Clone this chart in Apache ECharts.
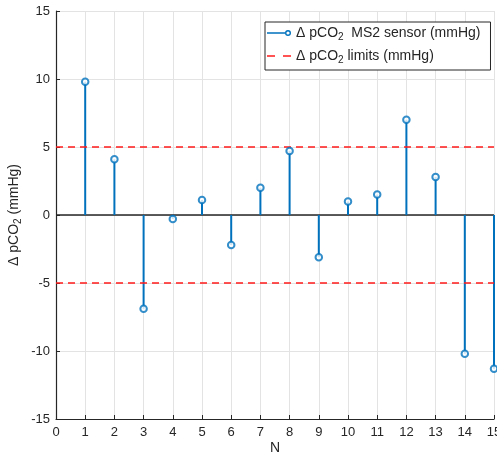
<!DOCTYPE html>
<html>
<head>
<meta charset="utf-8">
<script src="https://cdn.jsdelivr.net/npm/echarts@6/dist/echarts.min.js"></script>
<style>html,body{margin:0;padding:0;background:#fff}#c{width:497px;height:459px}</style>
</head>
<body>
<div id="c"></div>
<script>
const N = [1,2,3,4,5,6,7,8,9,10,11,12,13,14,15];
const dPCO2 = [9.8,4.1,-6.9,-0.3,1.1,-2.2,2.0,4.7,-3.1,1.0,1.5,7.0,2.8,-10.2,-11.3];
const limitUpper = 5;
const limitLower = -5;
const xTicks = [0,15];
const yTicks = [-15,15];

const SENSOR = 'sensor';
const LIMITS = 'limits';
const FONT = 'Liberation Sans, Arial, Helvetica, sans-serif';
const TXT = '#262626';
const BLUE = '#0072BD';
const RED = '#ff1a1a';

const pts = N.map((n,i)=>[n,dPCO2[i]]);

const ICON_STEM = 'path://M0,5.25 L18,5.25 L18,6.75 L0,6.75 Z ' +
  'M24,6 A3,3 0 1 0 18,6 A3,3 0 1 0 24,6 Z ' +
  'M22.6,6 A1.6,1.6 0 1 1 19.4,6 A1.6,1.6 0 1 1 22.6,6 Z';
const ICON_DASH = 'path://M0,0 L8,0 L8,1.5 L0,1.5 Z M16,0 L24,0 L24,1.5 L16,1.5 Z';

const chart = echarts.init(document.getElementById('c'), null, {renderer:'canvas'});
const richSub = {
  t:{fontSize:14,color:TXT,fontFamily:FONT},
  s:{fontSize:10,color:TXT,fontFamily:FONT,padding:[8,0,0,0]}
};
chart.setOption({
  animation:false,
  backgroundColor:'#fff',
  textStyle:{fontFamily:FONT},
  grid:{left:56,right:3,top:11,bottom:40,containLabel:false,outerBoundsMode:'none'},
  xAxis:{
    type:'value', min:xTicks[0], max:xTicks[1], interval:1,
    name:'N', nameLocation:'middle', nameGap:22, nameMoveOverlap:false,
    nameTextStyle:{color:TXT,fontSize:14,fontFamily:FONT},
    axisLine:{show:true,onZero:false,lineStyle:{color:TXT,width:1.2}},
    axisTick:{show:true,inside:true,length:4,lineStyle:{color:TXT,width:1}},
    axisLabel:{color:TXT,fontSize:13,margin:7,fontFamily:FONT},
    splitLine:{show:true,lineStyle:{color:'#e3e3e3',width:1}}
  },
  yAxis:{
    type:'value', min:yTicks[0], max:yTicks[1], interval:5,
    name:'{t|Δ pCO}{s|2}{t| (mmHg)}', nameLocation:'middle', nameGap:33, nameRotate:90, nameMoveOverlap:false,
    nameTextStyle:{color:TXT,fontSize:14,fontFamily:FONT,rich:richSub},
    axisLine:{show:true,onZero:false,lineStyle:{color:TXT,width:1.2}},
    axisTick:{show:true,inside:true,length:4,lineStyle:{color:TXT,width:1}},
    axisLabel:{color:TXT,fontSize:13,margin:6,fontFamily:FONT},
    splitLine:{show:true,lineStyle:{color:'#e3e3e3',width:1}}
  },
  legend:{
    orient:'vertical', left:265, top:22,
    backgroundColor:'#fff', borderColor:TXT, borderWidth:1, borderRadius:0,
    padding:[4,10,5,2], itemGap:7, itemWidth:24, itemHeight:14,
    data:[
      {name:SENSOR, icon:ICON_STEM, itemStyle:{color:BLUE,borderWidth:0,opacity:1}},
      {name:LIMITS, icon:ICON_DASH, itemStyle:{color:RED,borderWidth:0,opacity:1}}
    ],
    formatter:function(name){
      if(name===SENSOR) return '{t|Δ pCO}{s|2}{t|  MS2 sensor (mmHg)}';
      return '{t|Δ pCO}{s|2}{t| limits (mmHg)}';
    },
    textStyle:{color:TXT,fontSize:14,fontFamily:FONT,rich:richSub}
  },
  series:[
    {type:'line', name:'base', data:[[xTicks[0],0],[xTicks[1],0]], symbol:'none', silent:true,
     lineStyle:{color:TXT,width:1.5}, z:3},
    {type:'bar', name:'stems', data:pts, barWidth:2, itemStyle:{color:BLUE}, z:4, silent:true},
    {type:'scatter', name:SENSOR, data:pts, symbol:'emptyCircle', symbolSize:6.5,
     itemStyle:{color:BLUE,borderColor:BLUE,borderWidth:1.6}, z:6},
    {type:'line', name:LIMITS, data:[[xTicks[0],limitUpper],[xTicks[1],limitUpper]], symbol:'none',
     lineStyle:{color:RED,width:1.5,type:[7,5]}, z:5},
    {type:'line', name:LIMITS, data:[[xTicks[0],limitLower],[xTicks[1],limitLower]], symbol:'none',
     lineStyle:{color:RED,width:1.5,type:[7,5]}, z:5}
  ]
});
</script>
</body>
</html>
